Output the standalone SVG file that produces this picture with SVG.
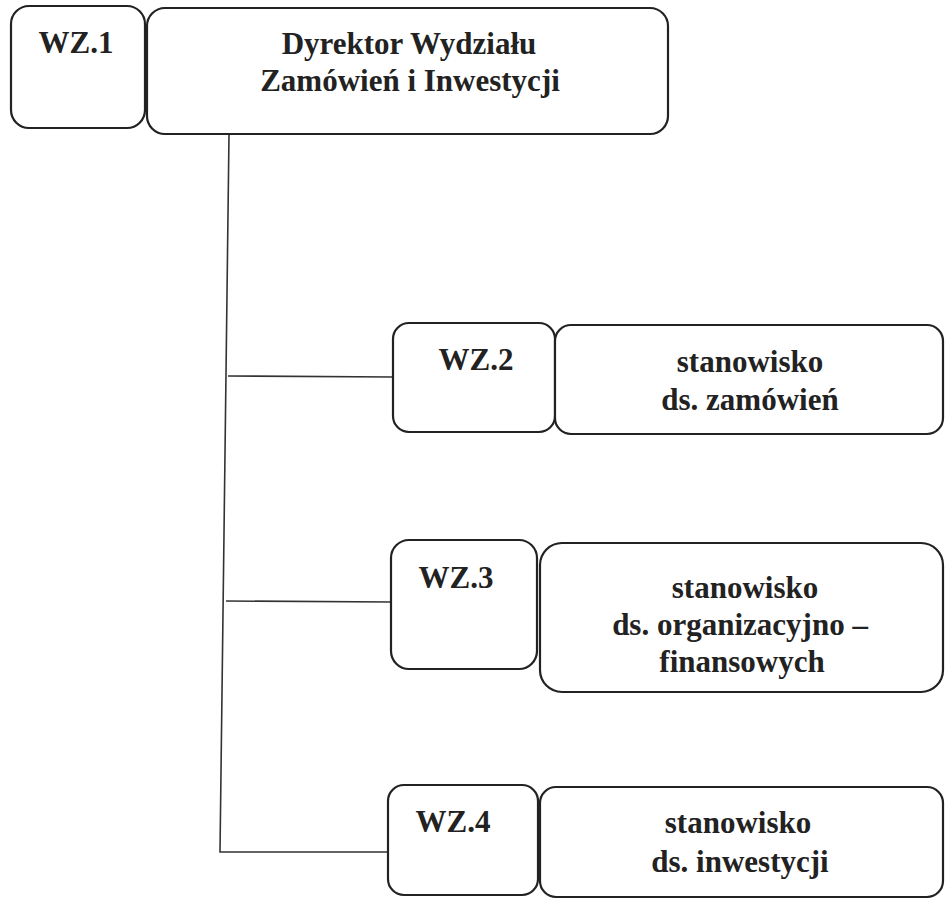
<svg xmlns="http://www.w3.org/2000/svg" width="945" height="899" viewBox="0 0 945 899">
<style>
.box{fill:#fff;stroke:#222;stroke-width:2.2}
.ln{stroke:#333;stroke-width:1.6;fill:none}
text{font-family:"Liberation Serif","Times New Roman",serif;font-weight:bold;font-size:31px;fill:#222;text-anchor:middle}
</style>
<rect width="945" height="899" fill="#fff"/>
<g id="connectors">
<polyline class="ln" points="229,135 220,852 390,852"/>
<line class="ln" x1="228" y1="376" x2="393" y2="377"/>
<line class="ln" x1="226" y1="601" x2="391" y2="602"/>
</g>
<g id="wz1">
<rect class="box" x="11" y="6" width="134" height="122" rx="18"/>
<text x="76" y="53">WZ.1</text>
</g>
<g id="dyrektor">
<rect class="box" x="147" y="8" width="521" height="126" rx="18"/>
<text x="409" y="54">Dyrektor Wydziału</text>
<text x="410" y="91">Zamówień i Inwestycji</text>
</g>
<g id="wz2">
<rect class="box" x="393" y="323" width="162" height="109" rx="16"/>
<text x="476" y="370">WZ.2</text>
</g>
<g id="st2">
<rect class="box" x="555" y="325" width="388" height="109" rx="16"/>
<text x="750" y="372">stanowisko</text>
<text x="750" y="410">ds. zamówień</text>
</g>
<g id="wz3">
<rect class="box" x="391" y="540" width="146" height="129" rx="18"/>
<text x="456" y="588">WZ.3</text>
</g>
<g id="st3">
<rect class="box" x="540" y="543" width="403" height="149" rx="22"/>
<text x="745" y="598">stanowisko</text>
<text x="740" y="635">ds. organizacyjno –</text>
<text x="742" y="672">finansowych</text>
</g>
<g id="wz4">
<rect class="box" x="388" y="785" width="150" height="110" rx="16"/>
<text x="453" y="832">WZ.4</text>
</g>
<g id="st4">
<rect class="box" x="540" y="787" width="403" height="110" rx="16"/>
<text x="738" y="833">stanowisko</text>
<text x="740" y="872">ds. inwestycji</text>
</g>
</svg>
